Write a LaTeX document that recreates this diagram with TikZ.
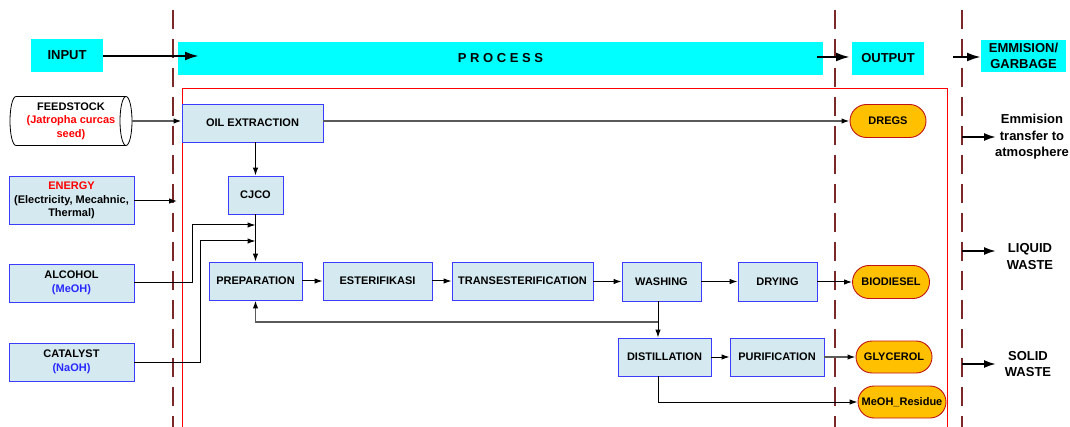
\documentclass[tikz,border=0pt]{standalone}
\usepackage{fontspec}
\setmainfont{Liberation Sans}
\usetikzlibrary{arrows.meta,shapes.misc}
\definecolor{hdr}{RGB}{0,255,255}
\definecolor{boxfill}{RGB}{212,234,240}
\definecolor{boxline}{RGB}{60,60,255}
\definecolor{pillfill}{RGB}{255,192,0}
\definecolor{pillline}{RGB}{192,20,20}
\definecolor{divider}{RGB}{122,40,40}
\definecolor{conn}{RGB}{90,90,90}
\definecolor{txtred}{RGB}{255,0,0}
\definecolor{txtblue}{RGB}{40,40,255}
\begin{document}
\begin{tikzpicture}[x=1pt,y=-1pt,
  every node/.style={font=\bfseries\fontsize{11}{13.5}\selectfont, align=center, inner sep=1pt},
  header/.style={fill=hdr, font=\bfseries\fontsize{13}{16}\selectfont, minimum height=33pt},
  procbox/.style={draw=boxline, fill=boxfill, line width=0.9pt, minimum height=38pt},
  pill/.style={rounded rectangle, draw=pillline, fill=pillfill, line width=0.9pt, minimum height=33pt},
  divline/.style={draw=divider, line width=2.5pt, dash pattern=on 19pt off 10pt},
  link/.style={draw=black, line width=1pt, -{Latex[length=8pt,width=5.5pt,color=black]}},
  greylink/.style={link, draw=conn, line width=1.4pt},
  bigarrow/.style={draw=black, line width=2.4pt, -{Latex[length=14pt,width=9pt]}},
  wastearrow/.style={draw=black, line width=2pt, -{Latex[length=12pt,width=8pt]}},
  note/.style={font=\bfseries\fontsize{13}{16.5}\selectfont}
]
\useasboundingbox (0,0) rectangle (1070,427);

% process frame
\draw[red, line width=0.9pt] (182,428) -- (182,88) -- (947,88) -- (947,428);

% stage dividers
\draw[divline] (173,10) -- (173,430);
\draw[divline] (835,10) -- (835,430);
\draw[divline] (962,10) -- (962,430);

% stage headers
\node[header, minimum width=72pt] (input) at (67,55.5) {INPUT};
\node[header, minimum width=645pt] (process) at (500.5,58.5) {P R O C E S S};
\node[header, minimum width=72pt] (output) at (888,58.5) {OUTPUT};
\node[header, minimum width=85pt, minimum height=32pt] (waste) at (1023.5,56) {EMMISION/\\GARBAGE};

\coordinate (inTip) at (199,56);
\coordinate (procOut) at (817,57);
\coordinate (outTip) at (850,57);
\coordinate (outOut) at (953,57);
\coordinate (wasteTip) at (981,57);
\draw[bigarrow] (input.east |- inTip) -- (inTip);
\draw[bigarrow] (procOut) -- (outTip);
\draw[bigarrow] (outOut) -- (wasteTip);

% feedstock drum
\draw[fill=white, line width=0.8pt] (16,96.5) -- (126,96.5)
  arc[start angle=90, end angle=-90, x radius=6pt, y radius=24.5pt]
  -- (16,145.5)
  arc[start angle=270, end angle=90, x radius=6pt, y radius=24.5pt] -- cycle;
\draw[line width=0.8pt] (126,96.5) arc[start angle=90, end angle=270, x radius=6pt, y radius=24.5pt];
\node[minimum width=122pt, minimum height=49pt] (feed) at (71,121)
  {FEEDSTOCK\\\textcolor{txtred}{(Jatropha curcas}\\\textcolor{txtred}{seed)}};

% inputs
\node[procbox, minimum width=125pt, minimum height=48pt] (energy) at (71.5,200.5)
  {\textcolor{txtred}{ENERGY}\\(Electricity, Mecahnic,\\Thermal)};
\node[procbox, minimum width=125pt] (alcohol) at (71.5,283) {ALCOHOL\\\textcolor{txtblue}{(MeOH)}};
\node[procbox, minimum width=125pt] (catalyst) at (71.5,362) {CATALYST\\\textcolor{txtblue}{(NaOH)}};

% process steps
\node[procbox, minimum width=141pt] (oil) at (252.5,123) {OIL EXTRACTION};
\node[procbox, minimum width=55pt] (cjco) at (255.5,195) {CJCO};
\node[procbox, minimum width=93pt] (prep) at (255.5,281) {PREPARATION};
\node[procbox, minimum width=109pt] (ester) at (377.5,281) {ESTERIFIKASI};
\node[procbox, minimum width=141pt] (trans) at (522.5,281) {TRANSESTERIFICATION};
\node[procbox, minimum width=79pt, minimum height=39pt] (wash) at (661.5,281.5) {WASHING};
\node[procbox, minimum width=79pt, minimum height=39pt] (dry) at (777.5,281.5) {DRYING};
\node[procbox, minimum width=93pt] (dist) at (664.5,357) {DISTILLATION};
\node[procbox, minimum width=94pt] (puri) at (777,357) {PURIFICATION};

% outputs
\node[pill, minimum width=78pt] (dregs) at (888,121) {DREGS};
\node[pill, minimum width=79pt] (bio) at (891,282) {BIODIESEL};
\node[pill, minimum width=78pt, minimum height=32pt] (gly) at (894,357) {GLYCEROL};
\node[pill, minimum width=90pt, minimum height=32pt] (meoh) at (902,402) {MeOH\_Residue};

% emission / waste
\node[note] (atmo) at (1032,137) {Emmision\\transfer to\\atmosphere};
\node[note] (liquid) at (1030,256.5) {LIQUID\\WASTE};
\node[note] (solid) at (1028,364) {SOLID\\WASTE};
\coordinate (atmoA) at (962,137);  \coordinate (atmoB) at (996,137);
\coordinate (liqA) at (962,251);   \coordinate (liqB) at (996,251);
\coordinate (solA) at (962,364);   \coordinate (solB) at (996,364);
\draw[wastearrow] (atmoA) -- (atmoB);
\draw[wastearrow] (liqA) -- (liqB);
\draw[wastearrow] (solA) -- (solB);

% connectors
\draw[greylink] (feed.east) -- (feed.east -| oil.west);
\draw[greylink] (dregs.west -| oil.east) -- (dregs.west);
\coordinate (energyIn) at (177,201);
\draw[link] (energy.east |- energyIn) -- (energyIn);
\draw[link] (oil.south -| cjco.north) -- (cjco.north);
\draw[link] (cjco.south) -- (prep.north);
\coordinate (alcBend) at (192,225);
\coordinate (catBend) at (200,241);
\draw[link] (alcohol.east) -| (alcBend) -- (alcBend -| cjco.south);
\draw[link] (catalyst.east) -| (catBend) -- (catBend -| cjco.south);
\draw[link] (prep) -- (ester);
\draw[link] (ester.east |- trans) -- (trans);
\draw[link] (trans.east |- wash) -- (wash);
\draw[link] (wash) -- (dry);
\draw[link] (dry.east |- bio) -- (bio);
\coordinate (split) at (658,322);
\draw[link] (wash.south -| split) -- (split) -- (dist.north -| split);
\draw[greylink] (split) -| (prep.south);
\draw[link] (dist) -- (puri);
\draw[greylink] (puri.east |- gly) -- (gly);
\coordinate (distDrop) at (658,402);
\draw[link] (dist.south -| distDrop) -- (distDrop) -- (meoh.west);
\end{tikzpicture}
\end{document}
